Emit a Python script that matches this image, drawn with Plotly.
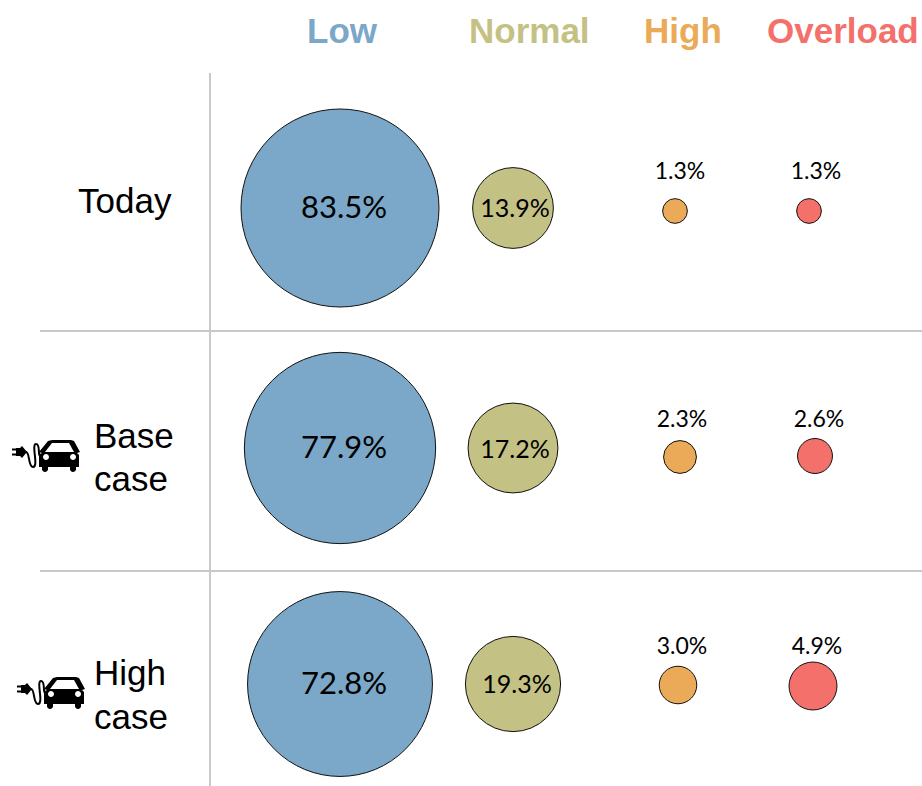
import plotly.graph_objects as go

# --- data ---
levels = ["Low", "Normal", "High", "Overload"]
scenario_lines = ["Today", "Base", "case", "High", "case"]
low = [83.5, 77.9, 72.8]
normal = [13.9, 17.2, 19.3]
high = [1.3, 2.3, 3.0]
overload = [1.3, 2.6, 4.9]
series = [low, normal, high, overload]

# --- styling / layout positions (pixel-like axes) ---
colors = ["#7BA8C8", "#C4C184", "#EBAA57", "#F4706B"]
header_x = [342, 529, 683, 843]
circle_x = [[340, 340, 340], [513, 513, 513], [675, 680, 678], [809, 815, 813]]
circle_y = [[208, 448, 684], [208, 448, 684], [211, 457, 685], [211, 456, 686]]
label_x = [[344, 344, 344], [515, 515, 517], [680, 682, 682], [816, 819, 817]]
label_y = [[210, 450, 686], [211, 452, 687], [173, 421, 648], [173, 421, 648]]
label_size = [31, 25, 23, 23]
row_label_x = [79, 95, 95, 95, 95]
row_label_y = [200, 435, 478, 672, 716]
icon_origin = [(12, 440), (17, 677)]
SIZEREF = 2 * 83.5 / 198 ** 2

fig = go.Figure()
for vals, cx, cy, c in zip(series, circle_x, circle_y, colors):
    fig.add_trace(go.Scatter(
        x=cx, y=cy, mode="markers", showlegend=False, hoverinfo="skip",
        marker=dict(size=vals, sizemode="area", sizeref=SIZEREF, color=c,
                    opacity=1, line=dict(color="#111111", width=1)),
    ))
for vals, lx, ly, s in zip(series, label_x, label_y, label_size):
    fig.add_trace(go.Scatter(
        x=lx, y=ly, mode="text", showlegend=False, hoverinfo="skip",
        text=[f"{v:.1f}%" for v in vals], textposition="middle center",
        textfont=dict(family="Lato, sans-serif", size=s, color="#000000"),
    ))

annotations = []
for name, x, c in zip(levels, header_x, colors):
    annotations.append(dict(x=x, y=30, text=f"<b>{name}</b>", showarrow=False,
                            xanchor="center", yanchor="middle",
                            font=dict(family="Liberation Sans, Arial", size=35, color=c)))
for name, x, y in zip(scenario_lines, row_label_x, row_label_y):
    annotations.append(dict(x=x, y=y, text=name, showarrow=False, xanchor="left",
                            yanchor="middle", borderpad=0, borderwidth=0,
                            xshift=-1,
                            font=dict(family="Liberation Sans, Arial", size=35, color="#000000")))

GRID = "#C9C9C9"
shapes = [
    dict(type="line", x0=210, x1=210, y0=73, y1=786, line=dict(color=GRID, width=2)),
    dict(type="line", x0=40, x1=922, y0=331, y1=331, line=dict(color=GRID, width=2)),
    dict(type="line", x0=40, x1=922, y0=571, y1=571, line=dict(color=GRID, width=2)),
]


def icon(ox, oy):
    """Plug-in car pictogram; local units are pixels from its top-left corner."""
    def P(pts):
        return "M" + " L".join(f"{ox + x:.1f},{oy + y:.1f}" for x, y in pts) + " Z"

    def C(cx, cy, r):
        X, Y, k = ox + cx, oy + cy, 0.55 * r
        return (f"M{X - r},{Y} C{X - r},{Y - k} {X - k},{Y - r} {X},{Y - r} "
                f"C{X + k},{Y - r} {X + r},{Y - k} {X + r},{Y} "
                f"C{X + r},{Y + k} {X + k},{Y + r} {X},{Y + r} "
                f"C{X - k},{Y + r} {X - r},{Y + k} {X - r},{Y} Z")

    def solid(path, color="#000000"):
        return dict(type="path", path=path, fillcolor=color, line=dict(width=0))

    out = [
        solid(P([(40, 0), (59, 0), (62, 1), (68, 12), (65, 13), (66, 14), (67, 15), (67, 27),
                 (27, 27), (27, 15), (28, 14), (30, 13), (27, 12), (36, 1)])),
        solid(P([(30, 26), (36, 26), (36, 30), (30, 30)])),
        solid(P([(58, 26), (64, 26), (64, 30), (58, 30)])),
        solid(C(33, 29, 3)),
        solid(C(61, 29, 3)),
        solid(P([(40, 3), (57, 3), (62, 12), (33, 12)]), "#FFFFFF"),
        solid(C(34, 17, 3), "#FFFFFF"),
        solid(C(61, 17, 3), "#FFFFFF"),
        solid(P([(4, 8), (8, 8), (10, 6), (15, 12), (10, 18), (8, 16), (4, 16)])),
        solid(P([(0, 8.5), (5, 8.5), (5, 10.5), (0, 10.5)])),
        solid(P([(0, 13.5), (5, 13.5), (5, 15.5), (0, 15.5)])),
    ]
    cable = (f"M{ox + 14},{oy + 12} C{ox + 18},{oy + 12} {ox + 16},{oy + 27} {ox + 21},{oy + 27} "
             f"C{ox + 27},{oy + 27} {ox + 19},{oy + 4} {ox + 24},{oy + 4} "
             f"C{ox + 29},{oy + 4} {ox + 25},{oy + 17} {ox + 29},{oy + 16}")
    out.append(dict(type="path", path=cable, line=dict(color="#000000", width=2)))
    return out


for ox, oy in icon_origin:
    shapes += icon(ox, oy)

axis = dict(visible=False, fixedrange=True)
fig.update_layout(
    width=922, height=786, autosize=False,
    margin=dict(l=0, r=0, t=0, b=0),
    paper_bgcolor="#FFFFFF", plot_bgcolor="#FFFFFF",
    xaxis=dict(range=[0, 922], **axis),
    yaxis=dict(range=[786, 0], **axis),
    annotations=annotations, shapes=shapes, showlegend=False,
)
fig.write_html("out.html", config={"displayModeBar": False},
               post_script="document.body.style.margin='0';document.body.style.overflow='hidden';")
